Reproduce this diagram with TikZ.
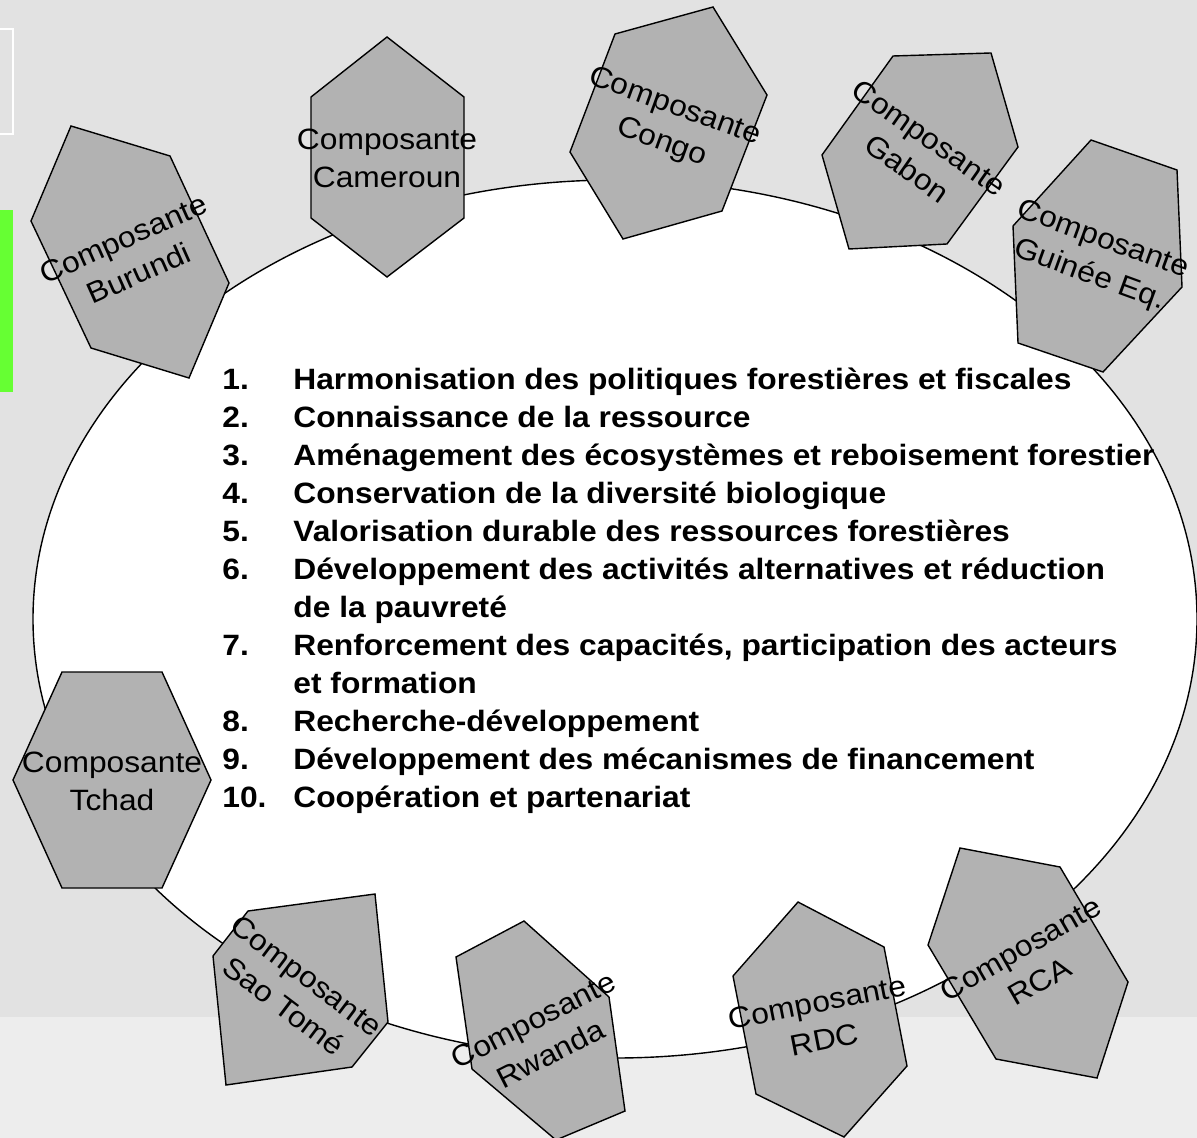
\documentclass[tikz,border=0pt]{standalone}
\usepackage{fontspec}
\setmainfont{Liberation Sans}[FakeStretch=1.08]
\definecolor{slidegray}{RGB}{226,226,226}
\definecolor{slidelight}{RGB}{237,237,237}
\definecolor{hexgray}{RGB}{178,178,178}
\definecolor{bargreen}{RGB}{102,255,51}
\newcommand{\num}[1]{\makebox[35.5pt][l]{#1}}

\begin{document}
\begin{tikzpicture}[x=0.5pt,y=-0.5pt,
  hexa/.style={draw=black,fill=hexgray,line width=0.7pt},
  hexlabel/.style={align=center,inner sep=0pt,font=\fontsize{14.7}{19}\selectfont},
  themes/.style={align=left,inner sep=0pt,anchor=base west,font=\fontsize{14.7}{19}\selectfont\bfseries}]
%================================================================
%	Background
\useasboundingbox (0,0) rectangle (1197,1138);
\fill[slidegray] (0,0) rectangle (1197,1138);
\fill[slidelight] (0,1017) rectangle (1197,1138);
\draw[white, line width=0.6pt] (-5,29) rectangle (13,134);
\fill[bargreen] (0,210) rectangle (13,392);

%================================================================
%	Ellipse
\draw[line width=0.7pt, fill=white] (615,619) ellipse (582 and 439);

%================================================================
%	Hexagons, top
\draw[hexa] (71,126) -- (170,156) -- (229,283) -- (189,378) -- (91,348) -- (31,221) -- cycle;
\draw[hexa] (387,37) -- (464,97) -- (464,218) -- (387,277) -- (311,218) -- (311,97) -- cycle;
\draw[hexa] (713,7) -- (767,95) -- (722,211) -- (623,239) -- (570,152) -- (615,34) -- cycle;
\draw[hexa] (893,56) -- (991,53) -- (1018,147) -- (947,244) -- (849,249) -- (822,155) -- cycle;
\draw[hexa] (1091,140) -- (1177,170) -- (1182,287) -- (1103,372) -- (1018,343) -- (1013,226) -- cycle;
%----------------------------------------------------------------
\node[hexlabel, rotate=24] (burundi) at (131,256) {Composante\\Burundi};
\node[hexlabel] (cameroun) at (387,158) {Composante\\Cameroun};
\node[hexlabel, rotate=-20] (congo) at (668,125) {Composante\\Congo};
\node[hexlabel, rotate=-35] (gabon) at (918,153) {Composante\\Gabon};
\node[hexlabel, rotate=-20] (guinee) at (1096,258) {Composante\\Guinée Eq.};

%================================================================
%	Hexagons, bottom
\draw[hexa] (62,672) -- (162,672) -- (211,780) -- (162,888) -- (62,888) -- (13,780) -- cycle;
\draw[hexa] (248,911) -- (375,894) -- (388,1022) -- (352,1067) -- (226,1085) -- (213,956) -- cycle;
\draw[hexa] (524,921) -- (609,997) -- (625,1111) -- (556,1140) -- (472,1069) -- (456,957) -- cycle;
\draw[hexa] (798,902) -- (884,947) -- (907,1066) -- (844,1137) -- (756,1094) -- (733,976) -- cycle;
\draw[hexa] (960,848) -- (1060,867) -- (1128,982) -- (1097,1078) -- (996,1059) -- (928,945) -- cycle;
%----------------------------------------------------------------
\node[hexlabel] (tchad) at (112,781) {Composante\\Tchad};
\node[hexlabel, rotate=-37] (saotome) at (295,991) {Composante\\Sao Tomé};
\node[hexlabel, rotate=27] (rwanda) at (542,1037) {Composante\\Rwanda};
\node[hexlabel, rotate=11] (rdc) at (821,1021) {Composante\\RDC};
\node[hexlabel, rotate=30] (rca) at (1030,965) {Composante\\RCA};

%================================================================
%	List (base = last line)
\node[themes] (axes) at (222,807) {%
\num{1.}Harmonisation des politiques forestières et fiscales\\
\num{2.}Connaissance de la ressource\\
\num{3.}Aménagement des écosystèmes et reboisement forestier\\
\num{4.}Conservation de la diversité biologique\\
\num{5.}Valorisation durable des ressources forestières\\
\num{6.}Développement des activités alternatives et réduction\\
\num{}de la pauvreté\\
\num{7.}Renforcement des capacités, participation des acteurs\\
\num{}et formation\\
\num{8.}Recherche-développement\\
\num{9.}Développement des mécanismes de financement\\
\num{10.}Coopération et partenariat};
%================================================================
\end{tikzpicture}
\end{document}
